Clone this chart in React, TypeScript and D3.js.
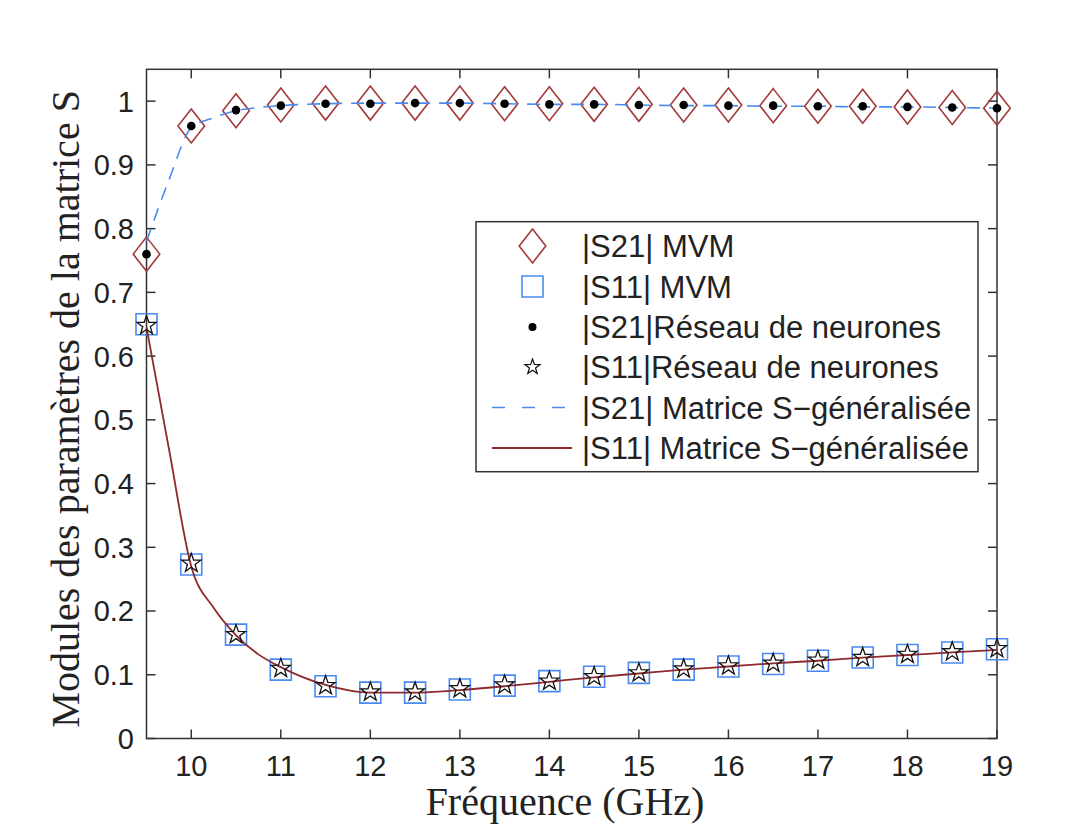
import React from "react";
import * as d3 from "d3";

const freq = [9.5, 10, 10.5, 11, 11.5, 12, 12.5, 13, 13.5, 14, 14.5, 15, 15.5, 16, 16.5, 17, 17.5, 18, 18.5, 19];
const s21MVM = [0.760, 0.961, 0.985, 0.994, 0.997, 0.997, 0.997, 0.997, 0.996, 0.996, 0.995, 0.995, 0.994, 0.994, 0.993, 0.992, 0.992, 0.991, 0.990, 0.989];
const s11MVM = [0.650, 0.273, 0.163, 0.108, 0.082, 0.072, 0.072, 0.077, 0.083, 0.090, 0.097, 0.103, 0.108, 0.113, 0.117, 0.122, 0.127, 0.131, 0.135, 0.140];
const s21NN = [0.760, 0.961, 0.986, 0.993, 0.996, 0.996, 0.997, 0.997, 0.996, 0.995, 0.995, 0.994, 0.994, 0.993, 0.993, 0.992, 0.992, 0.991, 0.990, 0.989];
const s11NN = [0.648, 0.275, 0.163, 0.110, 0.083, 0.073, 0.073, 0.078, 0.084, 0.090, 0.097, 0.103, 0.109, 0.114, 0.118, 0.123, 0.127, 0.132, 0.136, 0.141];

const lineFreq = [9.5, 9.75, 10, 10.25, 10.5, 10.75, 11, 11.5, 12, 12.5, 13, 13.5, 14, 14.5, 15, 15.5, 16, 16.5, 17, 17.5, 18, 18.5, 19];
const s21Line = [0.780, 0.876, 0.958, 0.974, 0.985, 0.990, 0.993, 0.996, 0.997, 0.997, 0.997, 0.996, 0.995, 0.995, 0.994, 0.993, 0.993, 0.992, 0.992, 0.991, 0.991, 0.990, 0.989];
const s11Line = [0.645, 0.455, 0.270, 0.205, 0.162, 0.132, 0.112, 0.084, 0.072, 0.072, 0.076, 0.082, 0.089, 0.096, 0.102, 0.108, 0.113, 0.118, 0.122, 0.127, 0.131, 0.135, 0.139];

const xTicks = [10, 11, 12, 13, 14, 15, 16, 17, 18, 19];
const yTicks = [0, 0.1, 0.2, 0.3, 0.4, 0.5, 0.6, 0.7, 0.8, 0.9, 1];

const legendLabels = [
  "|S21| MVM",
  "|S11| MVM",
  "|S21|Réseau de neurones",
  "|S11|Réseau de neurones",
  "|S21| Matrice S\u2212généralisée",
  "|S11| Matrice S\u2212généralisée",
];

const RED = "#a23a3a";
const BLUE = "#4a8af0";
const LINE_RED = "#8e2a2e";
const AXIS = "#333";

function diamondPath(hw: number, hh: number) {
  return `M0,${-hh}L${hw},0L0,${hh}L${-hw},0Z`;
}
function squarePath(s: number) {
  const h = s / 2;
  return `M${-h},${-h}H${h}V${h}H${-h}Z`;
}
function starPath(R: number) {
  const r = R * 0.4;
  const pts: string[] = [];
  for (let i = 0; i < 10; i++) {
    const a = -Math.PI / 2 + (i * Math.PI) / 5;
    const rr = i % 2 === 0 ? R : r;
    pts.push(`${(rr * Math.cos(a)).toFixed(2)},${(rr * Math.sin(a)).toFixed(2)}`);
  }
  return "M" + pts.join("L") + "Z";
}

export default function App() {
  const W = 1091, H = 825;
  const x = d3.scaleLinear().domain([9.5, 19]).range([146.5, 997]);
  const y = d3.scaleLinear().domain([0, 1.05]).range([738.5, 69.3]);
  const left = x(9.5), right = x(19), top = y(1.05), bottom = y(0);
  const tickLen = 9;

  const line = d3
    .line<number>()
    .x((_, i) => x(lineFreq[i]))
    .y((d) => y(d))
    .curve(d3.curveMonotoneX);

  const dia = diamondPath(13.3, 17);
  const sq = squarePath(21);
  const star = starPath(10);
  const starSmall = starPath(8);

  const lg = { x0: 476, y0: 221.7, x1: 978, y1: 471.7, symX: 532.5, textX: 582, rows: [246, 286.5, 327, 367, 407.5, 448] };

  return (
    <svg width={W} height={H} style={{ position: "absolute", left: 0, top: 0, background: "#fff" }}
      fontFamily="'Liberation Sans', Arial, sans-serif">
      <rect x={0} y={0} width={W} height={H} fill="#fff" />
      {/* axes box */}
      <rect x={left} y={top} width={right - left} height={bottom - top} fill="none" stroke={AXIS} strokeWidth={1.5} />
      {xTicks.map((t) => (
        <g key={"xt" + t}>
          <line x1={x(t)} x2={x(t)} y1={bottom} y2={bottom - tickLen} stroke={AXIS} strokeWidth={1.5} />
          <line x1={x(t)} x2={x(t)} y1={top} y2={top + tickLen} stroke={AXIS} strokeWidth={1.5} />
          <text x={x(t)} y={776} textAnchor="middle" fontSize={29} fill="#222">{t}</text>
        </g>
      ))}
      {yTicks.map((t) => (
        <g key={"yt" + t}>
          <line x1={left} x2={left + tickLen} y1={y(t)} y2={y(t)} stroke={AXIS} strokeWidth={1.5} />
          <line x1={right} x2={right - tickLen} y1={y(t)} y2={y(t)} stroke={AXIS} strokeWidth={1.5} />
          <text x={134} y={y(t) + 10.4} textAnchor="end" fontSize={29} fill="#222">{String(t)}</text>
        </g>
      ))}

      {/* MVM markers */}
      {freq.map((f, i) => (
        <path key={"d" + i} d={dia} transform={`translate(${x(f)},${y(s21MVM[i])})`} fill="none" stroke={RED} strokeWidth={1.6} />
      ))}
      {freq.map((f, i) => (
        <path key={"s" + i} d={sq} transform={`translate(${x(f)},${y(s11MVM[i])})`} fill="none" stroke={BLUE} strokeWidth={1.6} />
      ))}

      {/* lines */}
      <path d={line(s21Line) || ""} fill="none" stroke={BLUE} strokeWidth={1.6} strokeDasharray="13 9" />
      <path d={line(s11Line) || ""} fill="none" stroke={LINE_RED} strokeWidth={1.8} />

      {/* NN markers */}
      {freq.map((f, i) => (
        <circle key={"c" + i} cx={x(f)} cy={y(s21NN[i])} r={4.3} fill="#000" />
      ))}
      {freq.map((f, i) => (
        <path key={"st" + i} d={star} transform={`translate(${x(f)},${y(s11NN[i])})`} fill="none" stroke="#111" strokeWidth={1.3} />
      ))}

      {/* legend */}
      <rect x={lg.x0} y={lg.y0} width={lg.x1 - lg.x0} height={lg.y1 - lg.y0} fill="#fff" stroke={AXIS} strokeWidth={1.5} />
      <path d={dia} transform={`translate(${lg.symX},${lg.rows[0]})`} fill="none" stroke={RED} strokeWidth={1.6} />
      <path d={sq} transform={`translate(${lg.symX},${lg.rows[1]})`} fill="none" stroke={BLUE} strokeWidth={1.6} />
      <circle cx={lg.symX} cy={lg.rows[2]} r={4} fill="#000" />
      <path d={starSmall} transform={`translate(${lg.symX},${lg.rows[3]})`} fill="none" stroke="#111" strokeWidth={1.2} />
      <line x1={492} x2={572} y1={lg.rows[4]} y2={lg.rows[4]} stroke={BLUE} strokeWidth={1.6} strokeDasharray="13 17" />
      <line x1={492} x2={572} y1={lg.rows[5]} y2={lg.rows[5]} stroke={LINE_RED} strokeWidth={1.8} />
      {legendLabels.map((l, i) => (
        <text key={"lt" + i} x={lg.textX} y={lg.rows[i] + 11} fontSize={31} fill="#222">{l}</text>
      ))}

      {/* axis labels */}
      <text x={565} y={815} textAnchor="middle" fontFamily="'Liberation Serif', 'Times New Roman', serif" fontSize={40} fill="#222">Fréquence (GHz)</text>
      <text transform={`translate(79,${(top + bottom) / 2 + 5}) rotate(-90)`} textAnchor="middle"
        fontFamily="'Liberation Serif', 'Times New Roman', serif" fontSize={40} fill="#222">Modules des paramètres de la matrice S</text>
    </svg>
  );
}
